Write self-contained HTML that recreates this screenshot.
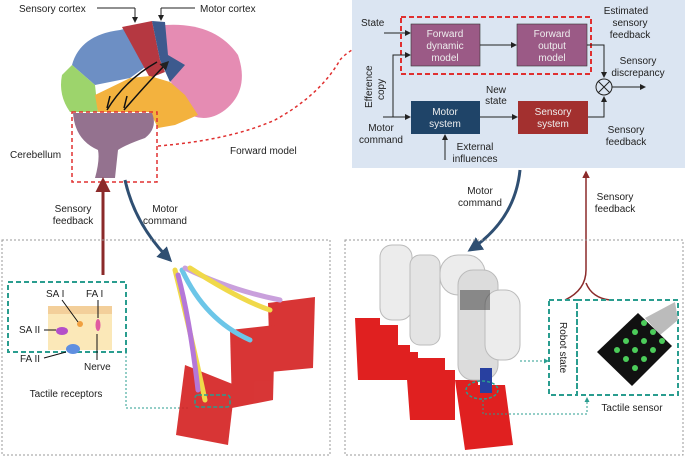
<!DOCTYPE html>
<html><head><meta charset="utf-8"><style>
body{margin:0;background:#fff;width:685px;height:459px;overflow:hidden;font-family:"Liberation Sans",sans-serif}
</style></head><body>
<svg width="685" height="459" viewBox="0 0 685 459" font-family="Liberation Sans, sans-serif" font-size="10" fill="#222">
<defs>
<marker id="a" markerWidth="6" markerHeight="6" refX="5" refY="3" orient="auto"><path d="M0,0L6,3L0,6z" fill="#222"/></marker>
<marker id="ab" markerWidth="5" markerHeight="5" refX="4" refY="2.5" orient="auto"><path d="M0,0L5,2.5L0,5z" fill="#2f4f72"/></marker>
<marker id="am" markerWidth="5" markerHeight="5" refX="4" refY="2.5" orient="auto"><path d="M0,0L5,2.5L0,5z" fill="#8b2a2a"/></marker>
<marker id="at" markerWidth="5" markerHeight="5" refX="4" refY="2.5" orient="auto"><path d="M0,0L5,2.5L0,5z" fill="#2a9d8f"/></marker>
</defs>
<!-- brain -->
<path d="M165 25 Q215 22 238 55 Q250 90 225 110 Q205 125 185 112 L170 80 L165 25z" fill="#e58cb3"/>
<path d="M72 65 Q80 35 120 30 L140 25 L155 60 L130 78 L95 85 z" fill="#6d8fc4"/>
<path d="M72 65 L95 85 L98 112 L70 112 Q58 95 62 75z" fill="#9dd46c"/>
<path d="M122 27 L152 21 L160 60 L165 72 L150 78 L140 60z" fill="#b53841"/>
<path d="M152 21 L165 22 L168 55 L185 65 L170 82 L160 60z" fill="#3d5a8e"/>
<path d="M95 95 L130 78 L150 76 L170 82 L185 95 L198 115 L175 125 L158 128 L150 112 L98 112z" fill="#f3b23e"/>
<path d="M73 113 L152 113 Q158 128 145 138 Q125 145 118 150 L115 178 L95 178 Q100 160 98 150 Q75 140 73 113z" fill="#94728f"/>
<path d="M107 110 Q125 80 157 62 M124 110 Q150 80 168 62" stroke="#111" stroke-width="1.5" fill="none" marker-end="url(#a)"/>
<path d="M110 96 L107 108 M127 96 L124 108" stroke="#111" stroke-width="1.5"/>
<rect x="72" y="112" width="85" height="70" fill="none" stroke="#e03030" stroke-width="1.5" stroke-dasharray="4,3"/>
<text x="19" y="12">Sensory cortex</text>
<line x1="97" y1="8" x2="135" y2="8" stroke="#222"/><line x1="135" y1="8" x2="135" y2="22" stroke="#222" marker-end="url(#a)"/>
<text x="200" y="12">Motor cortex</text>
<line x1="195" y1="8" x2="161" y2="8" stroke="#222"/><line x1="161" y1="8" x2="161" y2="20" stroke="#222" marker-end="url(#a)"/>
<text x="10" y="158">Cerebellum</text>
<text x="230" y="154">Forward model</text>
<path d="M158 146 Q230 140 275 120 Q320 95 340 60 Q352 45 400 30" stroke="#e03030" stroke-width="1.5" stroke-dasharray="3,3" fill="none"/>
<!-- right diagram -->
<rect x="352" y="0" width="333" height="168" fill="#dbe5f2"/>
<rect x="401" y="17" width="190" height="57" fill="none" stroke="#e03030" stroke-width="2" stroke-dasharray="5,3"/>
<rect x="411" y="24" width="69" height="42" fill="#9b5a86" stroke="#333" stroke-width=".6"/>
<rect x="517" y="24" width="70" height="42" fill="#9b5a86" stroke="#333" stroke-width=".6"/>
<rect x="411" y="101" width="69" height="33" fill="#1f4468"/>
<rect x="518" y="101" width="70" height="33" fill="#a3302f"/>
<g fill="#eee" font-size="10" text-anchor="middle">
<text x="445" y="37">Forward</text><text x="445" y="49">dynamic</text><text x="445" y="61">model</text>
<text x="552" y="37">Forward</text><text x="552" y="49">output</text><text x="552" y="61">model</text>
<text x="445" y="115">Motor</text><text x="445" y="127">system</text>
<text x="553" y="115">Sensory</text><text x="553" y="127">system</text>
</g>
<g stroke="#222" fill="none" stroke-width="1">
<line x1="384" y1="33" x2="410" y2="33" marker-end="url(#a)"/>
<path d="M383 117 H410" marker-end="url(#a)"/>
<path d="M393 117 V55 H410" marker-end="url(#a)"/>
<line x1="480" y1="45" x2="516" y2="45" marker-end="url(#a)"/>
<line x1="480" y1="117" x2="517" y2="117" marker-end="url(#a)"/>
<line x1="445" y1="160" x2="445" y2="135" marker-end="url(#a)"/>
<path d="M587 45 H604 V77" marker-end="url(#a)"/>
<path d="M588 117 H604 V97" marker-end="url(#a)"/>
<circle cx="604" cy="87" r="8"/>
<path d="M598 81 L610 93 M610 81 L598 93"/>
<line x1="612" y1="87" x2="645" y2="87" marker-end="url(#a)"/>
</g>
<text x="361" y="26">State</text>
<text x="626" y="14" text-anchor="middle">Estimated</text><text x="630" y="26" text-anchor="middle">sensory</text><text x="630" y="38" text-anchor="middle">feedback</text>
<text x="638" y="64" text-anchor="middle">Sensory</text><text x="638" y="76" text-anchor="middle">discrepancy</text>
<text x="496" y="93" text-anchor="middle">New</text><text x="496" y="104" text-anchor="middle">state</text>
<text x="381" y="131" text-anchor="middle">Motor</text><text x="381" y="143" text-anchor="middle">command</text>
<text x="475" y="150" text-anchor="middle">External</text><text x="475" y="162" text-anchor="middle">influences</text>
<text x="626" y="133" text-anchor="middle">Sensory</text><text x="626" y="145" text-anchor="middle">feedback</text>
<text transform="translate(372,108) rotate(-90)">Efference</text><text transform="translate(384,100) rotate(-90)">copy</text>
<!-- arrows between -->
<path d="M103 275 V180" stroke="#8b2a2a" stroke-width="3" fill="none" marker-end="url(#am)"/>
<text x="73" y="212" text-anchor="middle">Sensory</text><text x="73" y="224" text-anchor="middle">feedback</text>
<path d="M125 180 Q135 225 170 260" stroke="#2f4f72" stroke-width="3" fill="none" marker-end="url(#ab)"/>
<text x="165" y="212" text-anchor="middle">Motor</text><text x="165" y="224" text-anchor="middle">command</text>
<path d="M520 170 Q515 220 470 250" stroke="#2f4f72" stroke-width="3" fill="none" marker-end="url(#ab)"/>
<text x="480" y="194" text-anchor="middle">Motor</text><text x="480" y="206" text-anchor="middle">command</text>
<path d="M565 300 Q586 290 586 270 V172" stroke="#8b2a2a" stroke-width="1.5" fill="none" marker-end="url(#am)"/>
<path d="M586 283 Q592 298 610 300" stroke="#8b2a2a" stroke-width="1.5" fill="none"/>
<text x="615" y="200" text-anchor="middle">Sensory</text><text x="615" y="212" text-anchor="middle">feedback</text>
<!-- bottom panels -->
<rect x="2" y="240" width="328" height="215" fill="none" stroke="#999" stroke-dasharray="2,2"/>
<rect x="345" y="240" width="338" height="215" fill="none" stroke="#999" stroke-dasharray="2,2"/>
<!-- tactile receptors -->
<rect x="8" y="282" width="118" height="70" fill="none" stroke="#2a9d8f" stroke-width="2" stroke-dasharray="5,3"/>
<rect x="48" y="306" width="64" height="44" fill="#fbe8b8"/>
<rect x="48" y="306" width="64" height="8" fill="#f3cf9a"/>
<ellipse cx="62" cy="331" rx="6" ry="4" fill="#b44fc9"/>
<ellipse cx="73" cy="349" rx="7" ry="5" fill="#5f8fe0"/>
<ellipse cx="98" cy="325" rx="2.5" ry="6" fill="#e05aa0"/>
<circle cx="80" cy="324" r="3" fill="#f0a040"/>
<g stroke="#111" stroke-width="1"><line x1="62" y1="300" x2="78" y2="322"/><line x1="98" y1="300" x2="98" y2="318"/><line x1="44" y1="330" x2="56" y2="330"/><line x1="44" y1="358" x2="66" y2="352"/><line x1="97" y1="334" x2="97" y2="360"/></g>
<text x="46" y="297">SA I</text><text x="86" y="297">FA I</text>
<text x="19" y="333">SA II</text><text x="20" y="362">FA II</text><text x="84" y="370">Nerve</text>
<text x="66" y="397" text-anchor="middle">Tactile receptors</text>
<path d="M126 352 V408 H190" stroke="#2a9d8f" stroke-dasharray="2,2" fill="none"/>
<!-- hand/boxes -->
<g fill="#d42020" opacity=".9">
<polygon points="268,303 315,297 313,368 270,372"/>
<polygon points="230,330 275,325 273,400 232,408"/>
<polygon points="185,365 235,385 228,445 176,435"/>
</g>
<g stroke-width="5" fill="none" stroke-linecap="round">
<path d="M175 270 Q190 330 205 400" stroke="#f0d94a"/>
<path d="M182 270 Q205 320 250 340" stroke="#6cc6e8"/>
<path d="M185 268 Q230 290 280 300" stroke="#c9a0dc"/>
<path d="M178 275 Q190 320 198 390" stroke="#b577d8"/>
<path d="M190 268 Q240 300 270 310" stroke="#f0d94a"/>
</g>
<rect x="195" y="395" width="35" height="12" fill="none" stroke="#2a9d8f" stroke-width="1.5" stroke-dasharray="4,2" rx="3"/>
<!-- robot -->
<g fill="#e02020">
<path d="M355 318 H380 V325 H398 V345 H410 V380 H358 z"/>
<path d="M405 352 H418 V358 H445 V370 H455 V420 H410 z"/>
<path d="M455 380 H478 V385 H505 L513 445 L465 450 z"/>
</g>
<g fill="#ececec" stroke="#bbb">
<rect x="380" y="245" width="32" height="75" rx="12"/>
<rect x="410" y="255" width="30" height="90" rx="10" fill="#e4e4e4"/>
<rect x="440" y="255" width="45" height="40" rx="18"/>
<rect x="458" y="270" width="40" height="110" rx="15" fill="#dcdcdc"/>
<rect x="485" y="290" width="35" height="70" rx="15"/>
</g>
<rect x="460" y="290" width="30" height="20" fill="#333" opacity=".5"/>
<rect x="480" y="368" width="12" height="25" fill="#2840a0"/>
<path d="M520 361 H548" stroke="#2a9d8f" stroke-dasharray="2,2" marker-end="url(#at)"/>
<ellipse cx="482" cy="390" rx="16" ry="9" fill="none" stroke="#2a9d8f" stroke-width="1.5" stroke-dasharray="3,2"/>
<rect x="549" y="300" width="28" height="95" fill="none" stroke="#2a9d8f" stroke-width="2" stroke-dasharray="5,3"/>
<text transform="translate(560,322) rotate(90)">Robot state</text>
<rect x="577" y="300" width="101" height="95" fill="none" stroke="#2a9d8f" stroke-width="2" stroke-dasharray="5,3"/>
<path d="M645 318 L675 302 L678 320 L660 335z" fill="#bbb"/>
<polygon points="597,352 638,313 672,346 632,386" fill="#111"/>
<g fill="#4ccc5a"><circle cx="617" cy="350" r="3"/><circle cx="626" cy="341" r="3"/><circle cx="635" cy="332" r="3"/><circle cx="644" cy="323" r="3"/><circle cx="626" cy="359" r="3"/><circle cx="635" cy="350" r="3"/><circle cx="644" cy="341" r="3"/><circle cx="653" cy="332" r="3"/><circle cx="635" cy="368" r="3"/><circle cx="644" cy="359" r="3"/><circle cx="653" cy="350" r="3"/><circle cx="662" cy="341" r="3"/></g>
<text x="632" y="411" text-anchor="middle">Tactile sensor</text>
<path d="M483 400 V414 H587 V398" stroke="#2a9d8f" stroke-dasharray="2,2" fill="none" marker-end="url(#at)"/>
</svg>
</body></html>
